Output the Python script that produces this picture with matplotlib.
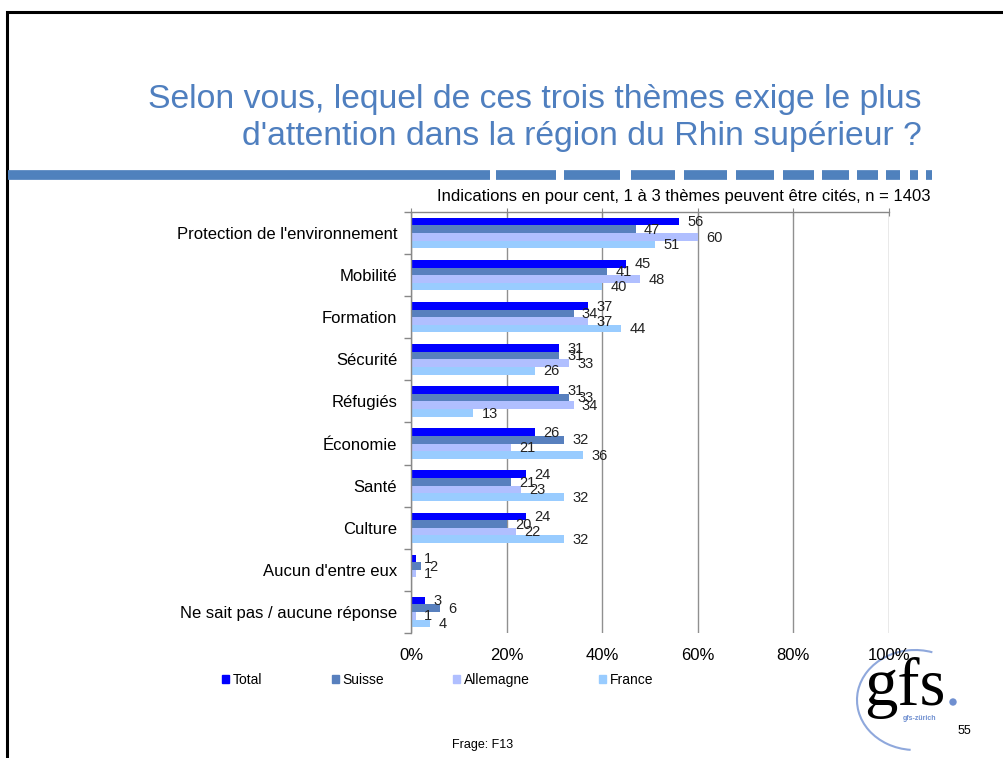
import matplotlib
matplotlib.use('Agg')
import matplotlib.pyplot as plt
from matplotlib.patches import Patch, Arc, Circle
import numpy as np

plt.rcParams['font.family'] = ['Liberation Sans', 'DejaVu Sans']

# data
categories = ["Protection de l'environnement", "Mobilité", "Formation", "Sécurité",
              "Réfugiés", "Économie", "Santé", "Culture", "Aucun d'entre eux",
              "Ne sait pas / aucune réponse"]
total = [56, 45, 37, 31, 31, 26, 24, 24, 1, 3]
suisse = [47, 41, 34, 31, 33, 32, 21, 20, 2, 6]
allemagne = [60, 48, 37, 33, 34, 21, 23, 22, 1, 1]
france = [51, 40, 44, 26, 13, 36, 32, 32, 0.2, 4]
series_names = ['Total', 'Suisse', 'Allemagne', 'France']
xticks = [0, 20, 40, 60, 80, 100]

colors = ['#0000FF', '#5880BE', '#B0BFFF', '#99CCFF']

W, H = 1004, 758
fig = plt.figure(figsize=(W / 100, H / 100), dpi=100)

# background decoration layer in pixel coords
bg = fig.add_axes([0, 0, 1, 1], zorder=0)
bg.set_xlim(0, W)
bg.set_ylim(H, 0)
bg.axis('off')

# slide frame
bg.plot([7, 7, W], [H, 12, 12], color='black', lw=2.2, solid_joinstyle='miter')

# dashed band under title
band = [(8, 490), (496, 556), (564, 620), (631, 675), (684, 727), (736, 774),
        (783, 814), (822, 849), (857, 878), (886, 900), (910, 918), (926, 932)]
for a, b in band:
    bg.plot([a, b], [175, 175], color='#4F81BD', lw=7, solid_capstyle='butt')

# gfs logo
bg.add_patch(Arc((915, 700), 116, 100, theta1=95, theta2=290, color='#8FA8DC', lw=1.5))
bg.text(905, 688, 'gfs', family='Liberation Serif', fontsize=48, ha='center', va='center')
bg.add_patch(Circle((953, 702), 3, color='#6F8FD0'))
bg.text(920, 718, 'gfs-zürich', fontsize=5, color='#6F8FD0', ha='center', va='center',
        fontweight='bold')

# main chart
ax = fig.add_axes([411 / W, 1 - 633 / H, (889 - 411) / W, (633 - 212) / H], zorder=1)
ax.set_facecolor('none')

y = np.arange(len(categories))
h = 0.18
for i, (name, vals) in enumerate(zip(series_names, [total, suisse, allemagne, france])):
    pos = y + (i - 1.5) * h
    ax.barh(pos, vals, height=h, color=colors[i], label=name, zorder=2)
    for p, v in zip(pos, vals):
        if round(v) >= 1:
            ax.annotate(str(int(round(v))), (v, p), xytext=(6, -0.5), textcoords='offset points',
                        ha='left', va='center', fontsize=10.5, color='#222222')

ax.set_xlim(0, 100)
ax.set_ylim(len(categories) - 0.5, -0.5)
ax.set_xticks(xticks)
ax.set_xticklabels([f'{t}%' for t in xticks], fontsize=12)
ax.set_yticks(y)
ax.set_yticklabels(categories, fontsize=12)
ax.set_yticks(np.arange(len(categories) + 1) - 0.5, minor=True)
ax.tick_params(axis='y', which='major', length=0, pad=10)
ax.tick_params(axis='y', which='minor', length=5, color='#888888', width=1)
ax.tick_params(axis='x', bottom=False, top=True, labelbottom=True, labeltop=False,
               direction='inout', length=6, color='#888888', pad=8)
ax.grid(axis='x', color='#909090', lw=1, zorder=1)
for s in ['bottom', 'right']:
    ax.spines[s].set_visible(False)
for s in ['left', 'top']:
    ax.spines[s].set_color('#888888')
    ax.spines[s].set_linewidth(1)

handles = [Patch(color=c, label=n) for c, n in zip(colors, series_names)]
fig.legend(handles=handles, loc='center left', bbox_to_anchor=(210 / W, 1 - 680 / H),
           ncol=4, frameon=False, fontsize=10, handlelength=0.5, handleheight=0.5,
           handletextpad=0.25, columnspacing=5.0)

# texts
fig.text(922 / W, 1 - 118 / H,
         "Selon vous, lequel de ces trois thèmes exige le plus\nd'attention dans la région du Rhin supérieur ?",
         ha='right', va='center', multialignment='right', fontsize=24.3, color='#4F7FBF',
         linespacing=1.22)
fig.text(931 / W, 1 - 197 / H,
         'Indications en pour cent, 1 à 3 thèmes peuvent être cités, n = 1403',
         ha='right', va='center', fontsize=12)
fig.text(452 / W, 1 - 745 / H, 'Frage: F13', ha='left', va='center', fontsize=9)
fig.text(958 / W, 1 - 731 / H, '55', ha='left', va='center', fontsize=9)

fig.savefig('out.png', dpi=100)
